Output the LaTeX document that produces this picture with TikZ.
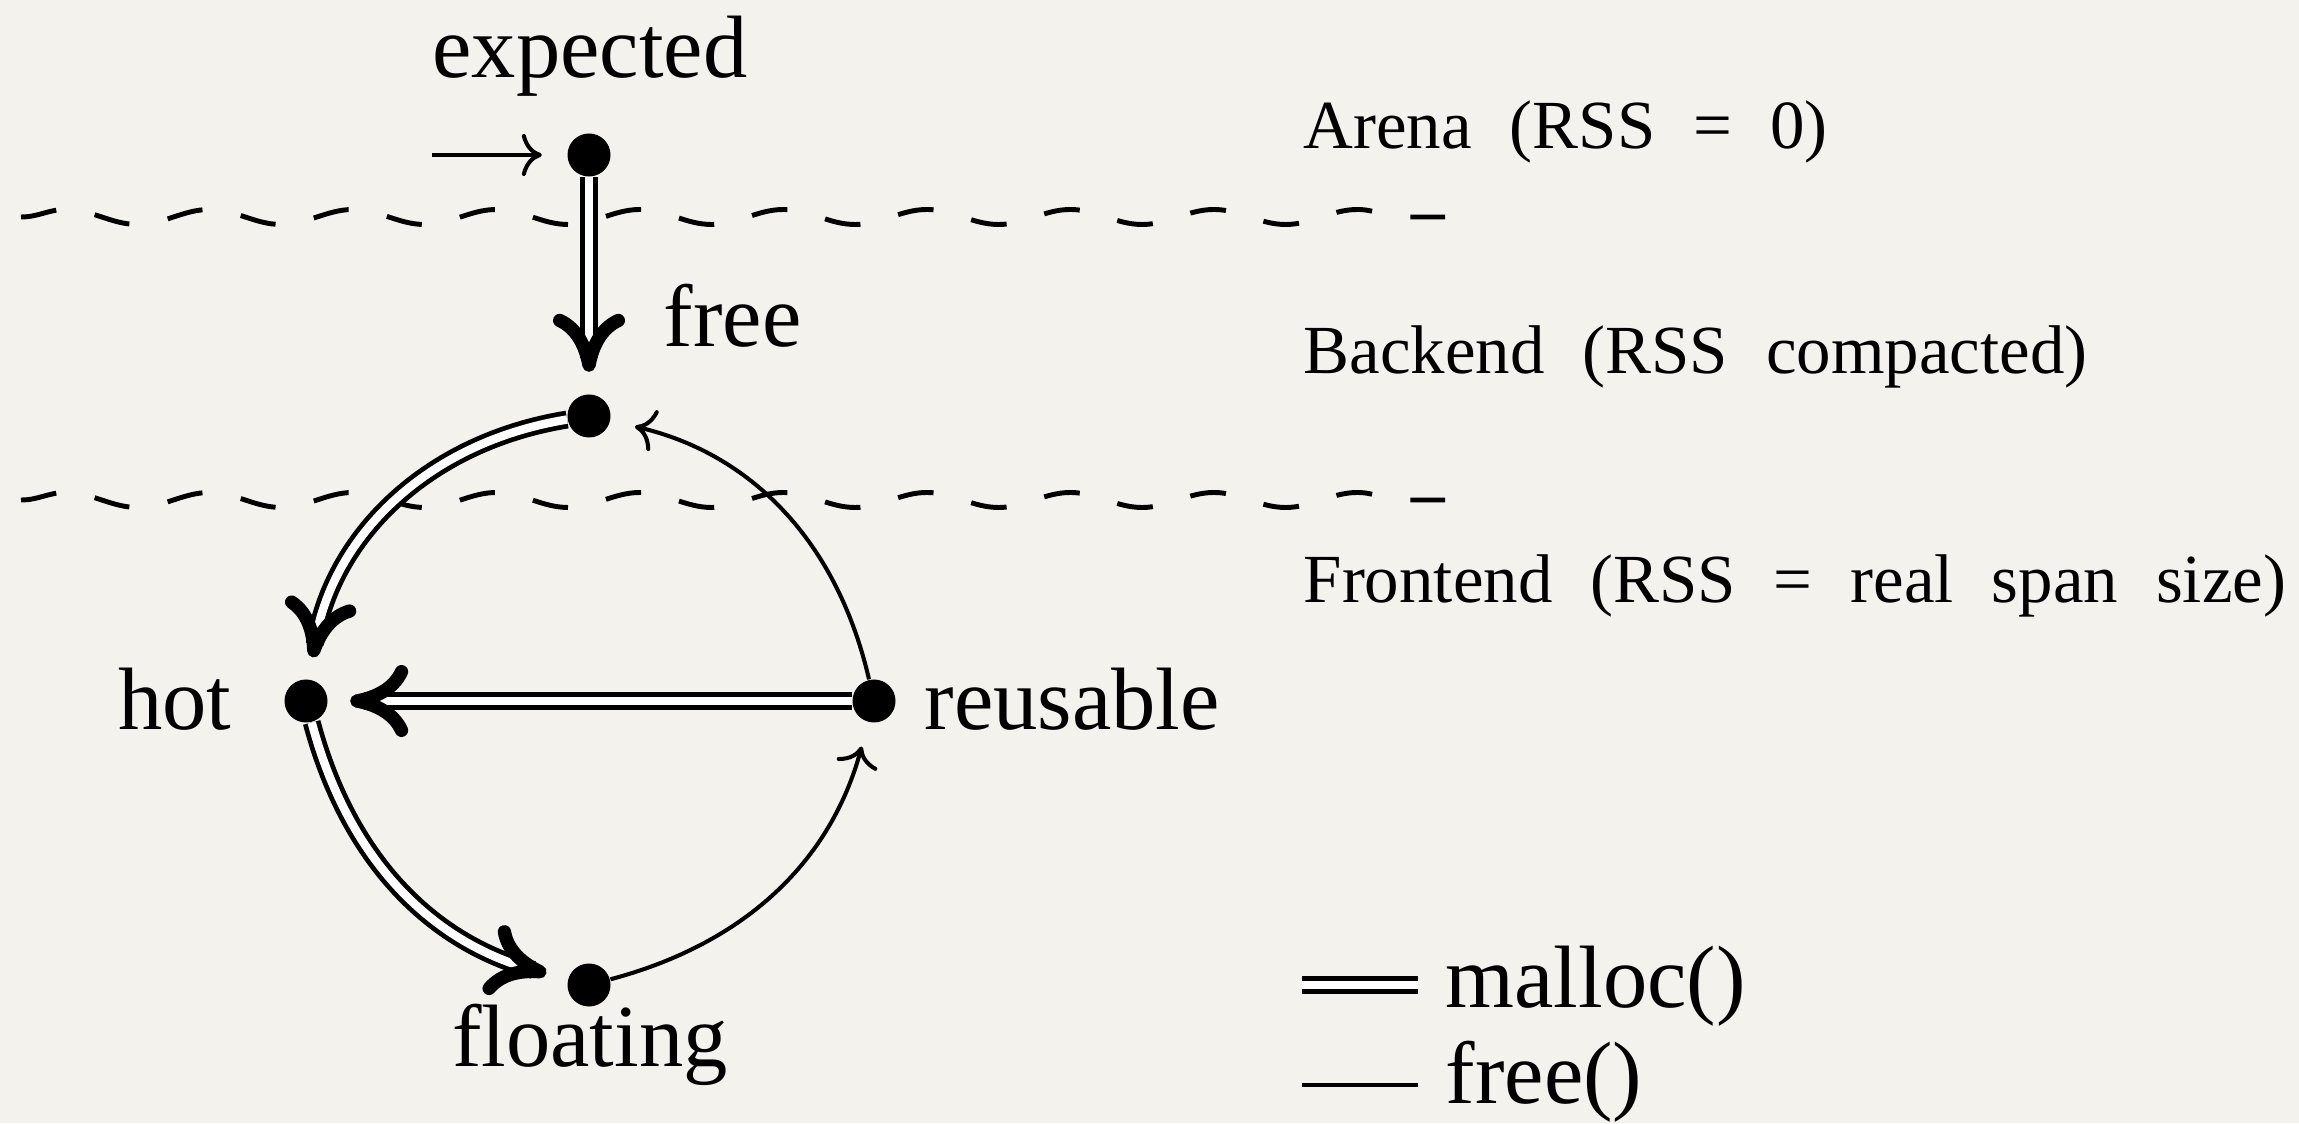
\documentclass[tikz,border=0pt]{standalone}
\usepackage{fontspec}
\setmainfont{Liberation Serif}
\usetikzlibrary{arrows.meta,decorations.pathmorphing}
\definecolor{paper}{RGB}{244,242,237}
\newcommand{\widespace}{\spaceskip=10.8pt\relax}
\begin{document}
\begin{tikzpicture}[x=1cm,y=1cm,
  dot/.style={circle,fill=black,inner sep=0pt,minimum size=0.43cm},
  txt/.style={inner sep=0pt,font=\fontsize{25.2}{30}\selectfont},
  layertxt/.style={inner sep=0pt,font=\fontsize{19.6}{24}\selectfont},
  freeedge/.style={line width=1.15pt,-{To[length=0.2cm,width=0.42cm]},shorten >=0.25cm},
  mallocedge/.style={double,double distance=2.4pt,line width=1.35pt,-{To[length=0.58cm,width=0.72cm,line width=3.8pt 0 0,round]},shorten >=0.22cm},
  mallocline/.style={double,double distance=2.4pt,line width=1.35pt},
  freeline/.style={line width=1.3pt},
  wavy/.style={line width=1.4pt,dash pattern=on 0.36cm off 0.39cm,decorate,decoration={snake,amplitude=0.075cm,segment length=1.435cm}}
]
\useasboundingbox[fill=paper] (0,0) rectangle (22.99,11.23);

% layer separators
\coordinate (w1a) at (0.21,9.06);
\coordinate (w1b) at (14.45,9.06);
\coordinate (w2a) at (0.21,6.23);
\coordinate (w2b) at (14.45,6.23);
\draw[wavy] (w1a) -- (w1b);
\draw[wavy] (w2a) -- (w2b);

% states
\node[dot] (expected) at (5.89,9.68) {};
\node[dot] (free) at (5.89,7.07) {};
\node[dot] (hot) at (3.06,4.22) {};
\node[dot] (reusable) at (8.74,4.22) {};
\node[dot] (floating) at (5.89,1.38) {};

% state labels
\node[txt,anchor=base] (lexpected) at (5.90,10.45) {expected};
\node[txt,anchor=base west] (lfree) at (6.63,7.76) {free};
\node[txt,anchor=base east] (lhot) at (2.32,3.93) {hot};
\node[txt,anchor=base west] (lreusable) at (9.24,3.93) {reusable};
\node[txt,anchor=base] (lfloating) at (5.90,0.57) {floating};

% initial arrow
\coordinate (init) at (4.32,9.68);
\draw[freeedge] (init) -- (expected);

% malloc transitions
\draw[mallocedge] (expected) -- (free);
\draw[mallocedge] (free) to[bend right=36] (hot);
\draw[mallocedge] (reusable) -- (hot);
\draw[mallocedge] (hot) to[bend right=30] (floating);

% free transitions
\draw[freeedge] (floating) to[bend right=30] (reusable);
\draw[freeedge] (reusable) to[bend right=32] (free);

% layer texts
\node[layertxt,anchor=base west] (arena) at (13.03,9.74) {\widespace Arena (RSS = 0)};
\node[layertxt,anchor=base west] (backend) at (13.03,7.49) {\widespace Backend (RSS compacted)};
\node[layertxt,anchor=base west] (frontend) at (13.03,5.20) {\widespace Frontend (RSS = real span size)};

% legend
\coordinate (m1) at (13.02,1.38);
\coordinate (m2) at (14.18,1.38);
\coordinate (f1) at (13.02,0.38);
\coordinate (f2) at (14.18,0.38);
\draw[mallocline] (m1) -- (m2);
\draw[freeline] (f1) -- (f2);
\node[txt,anchor=base west] (lmalloc) at (14.45,1.16) {malloc()};
\node[txt,anchor=base west] (lfreefn) at (14.45,0.20) {free()};
\end{tikzpicture}
\end{document}
